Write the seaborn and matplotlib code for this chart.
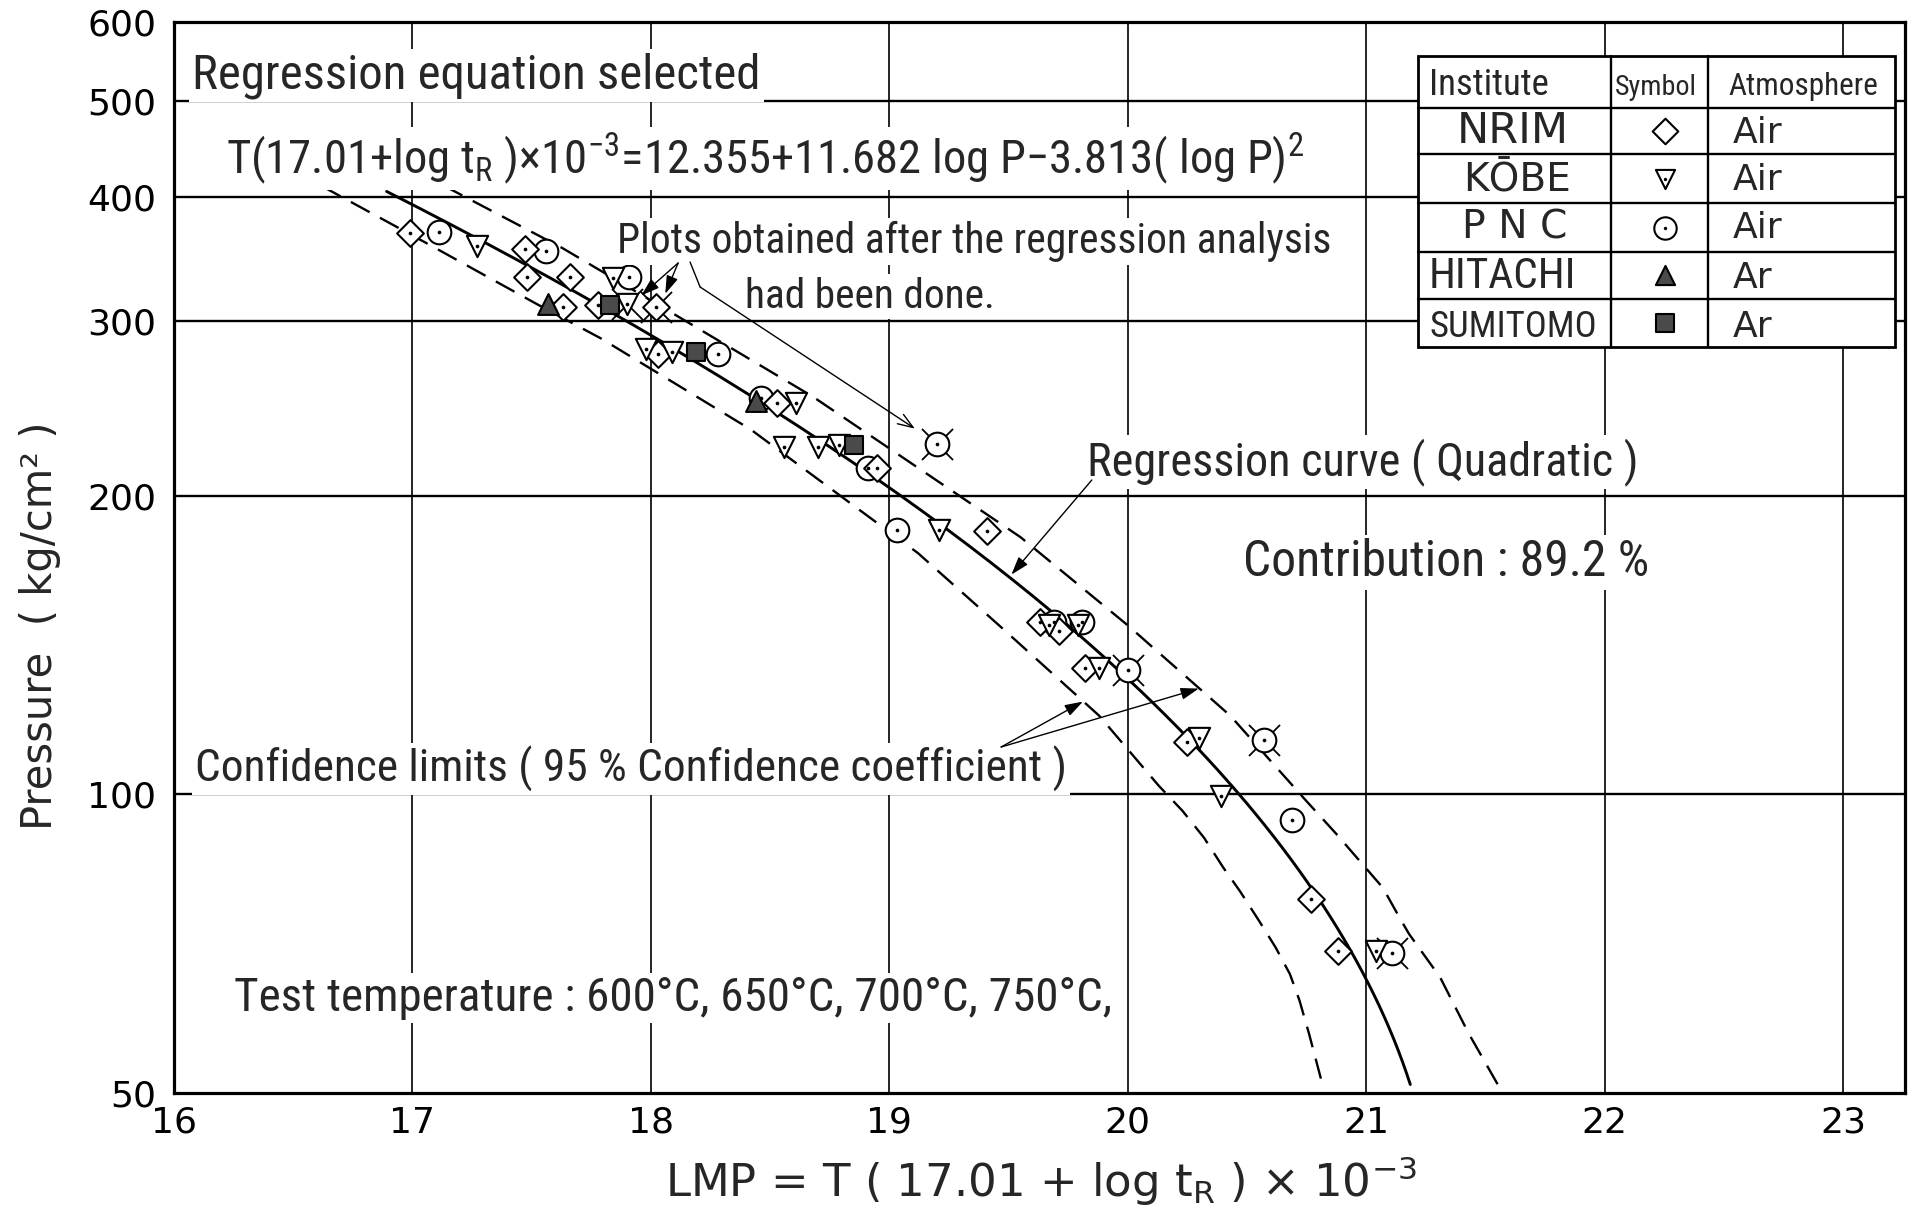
import numpy as np
import pandas as pd
import matplotlib
matplotlib.use("Agg")
import matplotlib.pyplot as plt
import seaborn as sns
from matplotlib import font_manager
from matplotlib.patches import Rectangle
from matplotlib.lines import Line2D
from matplotlib.ticker import NullLocator

# ---------------- measured creep-rupture points (LMP, pressure kg/cm2) ----------------
nrim_lmp = [16.99, 17.47, 17.48, 17.66, 17.63, 17.78, 18.02, 18.03, 18.53, 18.95,
            19.41, 19.63, 19.71, 19.82, 20.25, 20.77, 20.88]
nrim_p = [368, 354, 332, 332, 310, 311, 310, 278, 248, 213,
          184, 149, 146, 134, 113, 78.4, 69.5]

kobe_lmp = [17.27, 17.84, 17.90, 17.98, 18.09, 18.61, 18.56, 18.70, 18.79, 19.21,
            19.67, 19.79, 19.88, 20.30, 20.39, 21.04]
kobe_p = [357, 331, 312, 281, 279, 248, 224, 224, 225, 184.5,
          148, 148, 134, 114, 99.5, 69.5]

pnc_lmp = [17.11, 17.56, 17.91, 18.28, 18.46, 18.91, 19.20, 19.03, 19.69, 19.81,
           20.00, 20.57, 20.69, 21.11]
pnc_p = [369, 353, 332, 278, 251, 213, 225.6, 184.5, 149, 149,
         133.4, 113.5, 94.2, 69.2]

hitachi_lmp = [17.57, 18.44]
hitachi_p = [312, 249]

sumitomo_lmp = [17.83, 18.19, 18.85]
sumitomo_p = [311, 279, 225]

# points obtained after the regression analysis (marked with crosses)
checked_lmp = [17.90, 18.02, 19.20, 20.00, 20.57, 21.11]
checked_p = [312, 310, 225.6, 133.4, 113.5, 69.2]

# regression equation: LMP = a + b log P - c (log P)^2
coef_a, coef_b, coef_c = 12.355, 11.682, 3.813
curve_p = np.geomspace(405, 51, 160)

# 95 % confidence limits
upper_lmp = [17.13, 17.63, 18.07, 18.68, 19.55, 20.00, 20.43, 20.75, 20.875, 21.07,
             21.14, 21.18, 21.31, 21.43, 21.56]
upper_p = [410.6, 355, 307.4, 251.5, 181.6, 148, 120, 98.4, 91.2, 80.5,
           75.1, 72.3, 65.4, 57.4, 50.6]
lower_lmp = [16.62, 17.07, 17.52, 17.79, 18.42, 18.83, 19.12, 19.46, 19.88, 20.13,
             20.23, 20.32, 20.40, 20.47, 20.55, 20.62, 20.68, 20.72, 20.76, 20.81]
lower_p = [410, 358, 312, 288, 233, 197, 175, 148, 120, 102,
           96.2, 90.4, 84.4, 79.9, 74.6, 70.1, 65.9, 62, 57.4, 51.7]

# legend table contents
institutes = ["NRIM", "KŌBE", "P N C", "HITACHI", "SUMITOMO"]
atmospheres = ["Air", "Air", "Air", "Ar", "Ar"]
x_ticks = [16, 17, 18, 19, 20, 21, 22, 23]
y_ticks = [50, 100, 200, 300, 400, 500, 600]

# ---------------- fonts ----------------
sns.set_style("white")
_entries = font_manager.fontManager.ttflist
_names = {f.name for f in _entries}
NARROW = "DejaVu Sans"
for cand in ["Liberation Sans Narrow", "Roboto Condensed", "Open Sans Condensed"]:
    if cand in _names:
        NARROW = cand
        break
narrow_stretch = "normal"
if NARROW == "DejaVu Sans" and any(f.name == "DejaVu Sans" and f.stretch == "condensed" for f in _entries):
    narrow_stretch = "condensed"
WIDE = "DejaVu Sans"
plt.rcParams["font.family"] = [WIDE]
plt.rcParams["mathtext.default"] = "regular"
NFAM = [NARROW, "DejaVu Sans"]

# ---------------- figure ----------------
fig = plt.figure(figsize=(19.15, 12.11), dpi=100)
ax = fig.add_axes([0.0909, 0.0974, 0.9039, 0.8844])
ax.set_yscale("log")

frames = []
for name, xs, ys in [("PNC", pnc_lmp, pnc_p), ("NRIM", nrim_lmp, nrim_p),
                     ("KOBE", kobe_lmp, kobe_p), ("SUMITOMO", sumitomo_lmp, sumitomo_p),
                     ("HITACHI", hitachi_lmp, hitachi_p)]:
    frames.append(pd.DataFrame({"lmp": xs, "p": ys, "inst": name}))
df = pd.concat(frames, ignore_index=True)

styles = {
    "PNC": dict(marker="o", s=290, facecolor="white", zorder=4.0),
    "NRIM": dict(marker="D", s=185, facecolor="white", zorder=4.1),
    "KOBE": dict(marker="v", s=235, facecolor="white", zorder=4.2),
    "SUMITOMO": dict(marker="s", s=175, facecolor="#4a4a4a", zorder=4.3),
    "HITACHI": dict(marker="^", s=225, facecolor="#4a4a4a", zorder=4.4),
}

# regression curve and confidence limits
curve_lmp = coef_a + coef_b * np.log10(curve_p) - coef_c * np.log10(curve_p) ** 2
sns.lineplot(x=curve_lmp, y=curve_p, sort=False, estimator=None, color="black",
             lw=2.1, ax=ax, zorder=2)
for xs, ys in [(upper_lmp, upper_p), (lower_lmp, lower_p)]:
    sns.lineplot(x=xs, y=ys, sort=False, estimator=None, color="black", lw=1.7,
                 linestyle=(0, (9, 5)), ax=ax, zorder=2)

# cross ticks behind the post-analysis points
sns.scatterplot(x=checked_lmp, y=checked_p, marker="x", s=500, color="black",
                linewidth=1.3, ax=ax, zorder=3, legend=False)

for name, st in styles.items():
    sub = df[df["inst"] == name]
    sns.scatterplot(data=sub, x="lmp", y="p", marker=st["marker"], s=st["s"],
                    facecolor=st["facecolor"], edgecolor="black", linewidth=1.5,
                    ax=ax, zorder=st["zorder"], legend=False)

open_pts = df[df["inst"].isin(["PNC", "NRIM", "KOBE"])]
sns.scatterplot(data=open_pts, x="lmp", y="p", marker="o", s=7, color="black",
                linewidth=0, ax=ax, zorder=4.6, legend=False)

# ---------------- axes ----------------
ax.set_xlim(16, 23.26)
ax.set_ylim(50, 600)
ax.set_xticks(x_ticks)
ax.set_xticklabels([str(v) for v in x_ticks])
ax.set_yticks(y_ticks)
ax.set_yticklabels([str(v) for v in y_ticks])
ax.yaxis.set_minor_locator(NullLocator())
ax.tick_params(axis="both", length=0, labelsize=26, colors="black")
ax.tick_params(axis="y", pad=13)
ax.tick_params(axis="x", pad=9)
for v in x_ticks[1:]:
    ax.axvline(v, color="black", lw=1.2, zorder=0.5)
for h in y_ticks[1:-1]:
    ax.axhline(h, color="black", lw=1.7, zorder=0.5)
for sp in ax.spines.values():
    sp.set_color("black")
    sp.set_linewidth(2.3)

xl = ax.set_xlabel("LMP = T ( 17.01 + log t$_{R}$ ) × 10$^{-3}$", fontsize=26, va="baseline")
ax.xaxis.set_label_coords(0.501, -0.0971)
yl = ax.set_ylabel("Pressure  ( kg/cm² )", fontsize=26, va="center")
ax.yaxis.set_label_coords(-0.0774, 0.436)

# ---------------- annotations ----------------
box = dict(facecolor="white", edgecolor="none", pad=2)
eq_text = (f"T(17.01+log t$_{{R}}$ )×10$^{{-3}}$={coef_a:.3f}+{coef_b:.3f} log P"
           f"−{coef_c:.3f}( log P)$^{{2}}$")
notes = [
    ("Regression equation selected", 0.0104, 0.9384, 568),
    (eq_text, 0.0300, 0.8590, 1078),
    ("Plots obtained after the regression analysis", 0.2559, 0.7843, 714),
    ("had been done.", 0.3299, 0.7330, 250),
    ("Regression curve ( Quadratic )", 0.5274, 0.5770, 550),
    ("Contribution : 89.2 %", 0.6176, 0.4827, 406),
    ("Confidence limits ( 95 % Confidence coefficient )", 0.0121, 0.2904, 874),
    ("Test temperature : 600°C, 650°C, 700°C, 750°C,", 0.0347, 0.0766, 877),
]
fitted = []
for txt, fx, fy, w in notes:
    t = ax.text(fx, fy, txt, transform=ax.transAxes, ha="left", va="baseline",
                fontsize=28, family=NFAM, fontstretch=narrow_stretch,
                bbox=box, zorder=5)
    fitted.append((t, w, "w"))

# arrows
head = "-|>,head_length=0.55,head_width=0.18"
arrow_kw = dict(arrowstyle=head, lw=1.0, color="black", shrinkA=0, shrinkB=0,
                mutation_scale=20)
ax.annotate("", xy=(17.96, 318.2), xytext=(0.2912, 0.7750), textcoords="axes fraction",
            arrowprops=arrow_kw, zorder=5)
ax.annotate("", xy=(18.06, 319.4), xytext=(0.2912, 0.7750), textcoords="axes fraction",
            arrowprops=arrow_kw, zorder=5)
ax.add_line(Line2D([0.2981, 0.3039], [0.7759, 0.7526], transform=ax.transAxes,
                   color="black", lw=1.0, zorder=5))
ax.annotate("", xy=(19.107, 233.6), xytext=(0.3039, 0.7526), textcoords="axes fraction",
            arrowprops=dict(arrow_kw, arrowstyle="->,head_length=0.55,head_width=0.2"),
            zorder=5)
ax.annotate("", xy=(19.512, 166.5), xytext=(0.5302, 0.5724), textcoords="axes fraction",
            arrowprops=arrow_kw, zorder=5)
ax.annotate("", xy=(19.812, 124.0), xytext=(0.4778, 0.3231), textcoords="axes fraction",
            arrowprops=arrow_kw, zorder=5)
ax.annotate("", xy=(20.298, 127.8), xytext=(0.4778, 0.3231), textcoords="axes fraction",
            arrowprops=arrow_kw, zorder=5)

# ---------------- legend table ----------------
col_x = [0.7187, 0.8302, 0.8862, 0.9942]
row_y = [0.9683, 0.9197, 0.8768, 0.8310, 0.7853, 0.7414, 0.6965]
ax.add_patch(Rectangle((col_x[0], row_y[-1]), col_x[-1] - col_x[0], row_y[0] - row_y[-1],
                       transform=ax.transAxes, facecolor="white", edgecolor="black",
                       lw=2.0, zorder=6, clip_on=False))
for cx in col_x[1:-1]:
    ax.add_line(Line2D([cx, cx], [row_y[-1], row_y[0]], transform=ax.transAxes,
                       color="black", lw=1.7, zorder=7))
for ry in row_y[1:-1]:
    ax.add_line(Line2D([col_x[0], col_x[-1]], [ry, ry], transform=ax.transAxes,
                       color="black", lw=1.7, zorder=7))

header_base = 0.9318
for txt, fx, w in [("Institute", 0.7250, 120), ("Symbol", 0.8325, 82), ("Atmosphere", 0.8977, 150)]:
    t = ax.text(fx, header_base, txt, transform=ax.transAxes, ha="left", va="baseline",
                fontsize=24, family=NFAM, fontstretch=narrow_stretch, zorder=8)
    fitted.append((t, w, "w"))

row_base = [0.8867, 0.8431, 0.7980, 0.7514, 0.7062]
inst_left = [0.7412, 0.7447, 0.7441, 0.7250, 0.7250]
inst_width = [112, 108, 105, 147, 168]
inst_narrow = [False, False, False, True, True]
table_marker = ["D", "v", "o", "^", "s"]
table_size = [170, 190, 260, 190, 150]
table_face = ["white", "white", "white", "#4a4a4a", "#4a4a4a"]
table_dot = [False, True, True, False, False]
for i, inst in enumerate(institutes):
    fam = NFAM if inst_narrow[i] else [WIDE]
    t = ax.text(inst_left[i], row_base[i], inst, transform=ax.transAxes, ha="left",
                va="baseline", fontsize=24, family=fam,
                fontstretch=narrow_stretch if inst_narrow[i] else "normal", zorder=8)
    fitted.append((t, inst_width[i], "w"))
    ax.text(0.9006, row_base[i], atmospheres[i], transform=ax.transAxes, ha="left",
            va="baseline", fontsize=26, family=[WIDE], zorder=8)
    yc = (row_y[i + 1] + row_y[i + 2]) / 2
    ax.scatter([0.8614], [yc], transform=ax.transAxes, marker=table_marker[i],
               s=table_size[i], facecolor=table_face[i], edgecolor="black",
               linewidth=1.5, zorder=8, clip_on=False)
    if table_dot[i]:
        ax.scatter([0.8614], [yc], transform=ax.transAxes, marker="o", s=6,
                   color="black", linewidth=0, zorder=9, clip_on=False)

fitted.append((xl, 751, "w"))
fitted.append((yl, 409, "h"))

# scale fonts so every text spans its intended extent
fig.canvas.draw()
renderer = fig.canvas.get_renderer()
for _ in range(2):
    for t, target, dim in fitted:
        bb = t.get_window_extent(renderer)
        cur = bb.width if dim == "w" else bb.height
        if cur > 0:
            t.set_fontsize(t.get_fontsize() * target / cur)

ax.set_xlim(16, 23.26)
ax.set_ylim(50, 600)
fig.savefig("out.png", dpi=100, facecolor="white")
